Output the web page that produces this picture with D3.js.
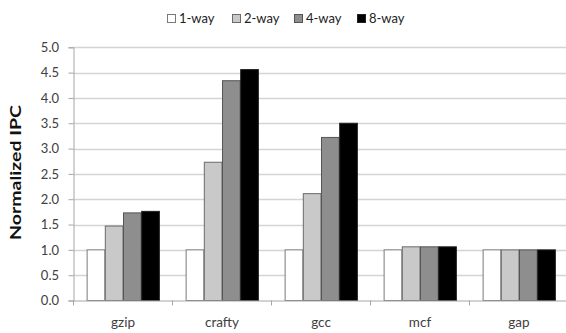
<!DOCTYPE html>
<html>
<head>
<meta charset="utf-8">
<script src="https://cdn.jsdelivr.net/npm/d3@7"></script>
<style>
  html, body { margin: 0; padding: 0; background: #fff; }
  svg { display: block; font-family: Lato, "Open Sans", sans-serif; }
</style>
</head>
<body>
<svg id="chart" width="566" height="333"></svg>
<script>
// Benchmarks and normalized IPC per issue width
const categories = ["gzip", "crafty", "gcc", "mcf", "gap"];
const seriesNames = ["1-way", "2-way", "4-way", "8-way"];
const oneWay   = [1.00, 1.00, 1.00, 1.00, 1.00];
const twoWay   = [1.47, 2.73, 2.11, 1.06, 1.00];
const fourWay  = [1.73, 4.34, 3.22, 1.06, 1.00];
const eightWay = [1.76, 4.56, 3.50, 1.06, 1.00];
const yTicks = [0, 0.5, 1, 1.5, 2, 2.5, 3, 3.5, 4, 4.5, 5];

const seriesValues = [oneWay, twoWay, fourWay, eightWay];
const fills = ["#ffffff", "#c9c9c9", "#8e8e8e", "#000000"];
const strokes = ["#7a7a7a", "#6a6a6a", "#555555", "#222222"];

const svg = d3.select("#chart");
const plotLeft = 73.5, plotRight = 568.5, plotTop = 47.3, plotBottom = 300.5;

const x0 = d3.scaleBand().domain(categories).range([plotLeft, plotRight])
  .paddingInner(0.265).paddingOuter(0.1325);
const x1 = d3.scaleBand().domain(seriesNames).range([0, x0.bandwidth()]);
const y = d3.scaleLinear().domain([0, 5]).range([plotBottom, plotTop]);

// horizontal gridlines
svg.append("g").selectAll("line").data(yTicks.filter(t => t > 0)).join("line")
  .attr("x1", plotLeft).attr("x2", 566)
  .attr("y1", d => Math.round(y(d)) + 0.5).attr("y2", d => Math.round(y(d)) + 0.5)
  .attr("stroke", "#d4d4d4").attr("stroke-width", 1.3);

// bars
const groups = svg.append("g").selectAll("g").data(categories).join("g")
  .attr("transform", c => `translate(${x0(c)},0)`);
groups.selectAll("rect")
  .data((c, i) => seriesNames.map((s, k) => ({ s, k, v: seriesValues[k][i] })))
  .join("rect")
  .attr("x", d => x1(d.s) + 0.5)
  .attr("width", x1.bandwidth() - 0.5)
  .attr("y", d => y(d.v))
  .attr("height", d => plotBottom - y(d.v))
  .attr("fill", d => fills[d.k])
  .attr("stroke", d => strokes[d.k])
  .attr("stroke-width", 1);

// y axis
const yAxis = d3.axisLeft(y).tickValues(yTicks).tickFormat(d3.format(".1f")).tickSizeOuter(0).tickSize(5).tickPadding(9.5);
const gy = svg.append("g").attr("transform", `translate(${plotLeft},0)`).call(yAxis);
gy.select(".domain").attr("stroke", "#a6a6a6");
gy.selectAll(".tick line").attr("stroke", "#a6a6a6");
gy.selectAll(".tick text").attr("font-size", 13).attr("fill", "#404040").attr("font-family", "Lato, sans-serif");

// x axis
const gx = svg.append("g").attr("transform", `translate(0,${plotBottom})`);
gx.append("line").attr("x1", plotLeft).attr("x2", 566).attr("y1", 0.5).attr("y2", 0.5).attr("stroke", "#a6a6a6");
const bounds = d3.range(categories.length + 1).map(i => plotLeft + i * x0.step());
gx.selectAll("line.tk").data(bounds).join("line").attr("class", "tk")
  .attr("x1", d => d).attr("x2", d => d).attr("y1", 0).attr("y2", 5).attr("stroke", "#a6a6a6");
gx.selectAll("text").data(categories).join("text")
  .attr("x", c => x0(c) + x0.bandwidth() / 2).attr("y", 26)
  .attr("text-anchor", "middle").attr("font-size", 13.5).attr("fill", "#404040")
  .text(c => c);

// y axis title
svg.append("text")
  .attr("transform", `translate(21,172.5) rotate(-90) scale(1,0.82)`)
  .attr("text-anchor", "middle").attr("font-size", 19.5).attr("font-weight", "bold").attr("fill", "#111")
  .text("Normalized IPC");

// legend
const legendX = [167, 232, 294, 357];
const lg = svg.append("g").selectAll("g").data(seriesNames).join("g")
  .attr("transform", (s, i) => `translate(${legendX[i]},14)`);
lg.append("rect").attr("x", 0.5).attr("y", 0.5).attr("width", 8).attr("height", 8)
  .attr("fill", (s, i) => fills[i]).attr("stroke", (s, i) => strokes[i]);
lg.append("text").attr("x", 12).attr("y", 9).attr("font-size", 13).attr("fill", "#222")
  .text(s => s);
</script>
</body>
</html>
